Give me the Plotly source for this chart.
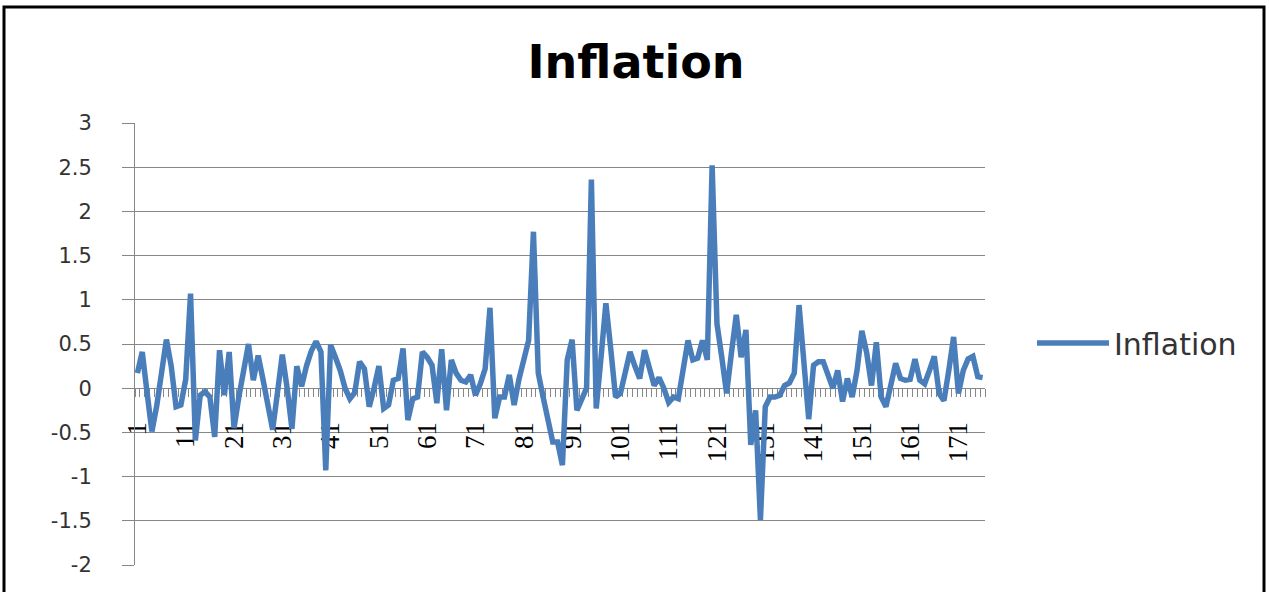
import plotly.graph_objects as go

# ---- data ----
periods = list(range(1, 177))

inflation = [
    0.17, 0.41, -0.05, -0.49, -0.20, 0.20, 0.55, 0.25, -0.21, -0.19,
    0.10, 1.07, -0.59, -0.08, -0.04, -0.10, -0.55, 0.43, -0.08, 0.41,
    -0.45, -0.10, 0.25, 0.50, 0.09, 0.37, 0.10, -0.20, -0.47, -0.05,
    0.38, 0.00, -0.46, 0.25, 0.02, 0.25, 0.42, 0.53, 0.41, -0.93,
    0.49, 0.35, 0.20, 0.00, -0.12, -0.05, 0.30, 0.22, -0.21, 0.00,
    0.25, -0.23, -0.19, 0.09, 0.11, 0.45, -0.36, -0.12, -0.10, 0.41,
    0.35, 0.26, -0.17, 0.44, -0.25, 0.32, 0.17, 0.09, 0.07, 0.15,
    -0.08, 0.05, 0.22, 0.91, -0.34, -0.10, -0.10, 0.15, -0.19, 0.10,
    0.35, 0.54, 1.77, 0.17, -0.10, -0.35, -0.61, -0.61, -0.87, 0.32,
    0.55, -0.25, -0.12, 0.00, 2.36, -0.23, 0.35, 0.96, 0.45, -0.10,
    -0.06, 0.15, 0.41, 0.25, 0.11, 0.43, 0.25, 0.03, 0.12, 0.00,
    -0.16, -0.10, -0.12, 0.20, 0.54, 0.32, 0.34, 0.54, 0.32, 2.52,
    0.73, 0.35, -0.06, 0.40, 0.83, 0.35, 0.66, -0.64, -0.25, -1.49,
    -0.21, -0.10, -0.10, -0.08, 0.03, 0.06, 0.17, 0.94, 0.30, -0.35,
    0.26, 0.30, 0.30, 0.15, 0.00, 0.20, -0.15, 0.11, -0.10, 0.20,
    0.65, 0.40, 0.03, 0.52, -0.10, -0.21, 0.05, 0.28, 0.11, 0.09,
    0.10, 0.33, 0.09, 0.05, 0.20, 0.36, -0.06, -0.14, 0.20, 0.58,
    -0.06, 0.20, 0.33, 0.36, 0.13, 0.12,
]

x_tick_vals = list(range(1, 177, 10))
x_tick_text = [str(v) for v in x_tick_vals]

y_tick_vals = [3, 2.5, 2, 1.5, 1, 0.5, 0, -0.5, -1, -1.5, -2]
y_tick_text = ["3", "2.5", "2", "1.5", "1", "0.5", "0", "-0.5", "-1", "-1.5", "-2"]

series_name = "Inflation"
chart_title = "Inflation"

# ---- layout geometry (pixels) ----
W, H = 1269, 592
ML, MR, MT, MB = 135, 284, 123, 27
PW, PH = W - ML - MR, H - MT - MB


def px_x(p):
    return (p - ML) / PW


def px_y(p):
    return (H - MB - p) / PH


GRID = "#878787"
BLUE = "#4A7EBB"

fig = go.Figure()
fig.add_trace(go.Scatter(
    x=periods, y=inflation, mode="lines", name=series_name,
    line=dict(color=BLUE, width=5.5),
))

fig.update_layout(
    width=W, height=H, autosize=False,
    margin=dict(l=ML, r=MR, t=MT, b=MB, pad=0),
    paper_bgcolor="white", plot_bgcolor="white",
    title=dict(
        text=chart_title, x=636 / W, xref="container", xanchor="center",
        y=1 - 62 / H, yref="container", yanchor="middle",
        font=dict(family="DejaVu Sans", size=46, color="black", weight="bold"),
    ),
    showlegend=True,
    legend=dict(
        x=px_x(1032), y=px_y(343), xanchor="left", yanchor="middle",
        font=dict(family="DejaVu Sans", size=30, color="#333333"),
        bgcolor="rgba(0,0,0,0)", itemwidth=72,
    ),
    xaxis=dict(
        range=[0.5, 176.5], anchor="free", position=0.4,
        showline=True, linecolor=GRID, linewidth=1,
        tickmode="array", tickvals=x_tick_vals, ticktext=x_tick_text,
        tickangle=-90, ticks="",
        tickfont=dict(family="Liberation Serif", size=27, color="black"),
        ticklabelstandoff=22,
        minor=dict(ticks="outside", ticklen=8, tickcolor=GRID, tickwidth=1,
                   tickmode="linear", tick0=0.5, dtick=1, showgrid=False),
        showgrid=False, zeroline=False, layer="below traces",
    ),
    yaxis=dict(
        range=[-2, 3], tickmode="array", tickvals=y_tick_vals, ticktext=y_tick_text,
        showgrid=True, gridcolor=GRID, gridwidth=1,
        showline=True, linecolor=GRID, linewidth=1,
        ticks="outside", ticklen=12, tickcolor=GRID,
        tickfont=dict(family="DejaVu Sans", size=21, color="#333333"),
        ticklabelstandoff=26, zeroline=False,
    ),
    shapes=[
        dict(type="rect", xref="paper", yref="paper",
             x0=px_x(4), x1=px_x(1264), y0=px_y(600), y1=px_y(7),
             line=dict(color="black", width=3), fillcolor="rgba(0,0,0,0)", layer="above"),
    ],
)

fig.write_html(
    "out.html",
    config={"displayModeBar": False},
    post_script="document.body.style.margin='0';document.body.style.overflow='hidden';",
)
